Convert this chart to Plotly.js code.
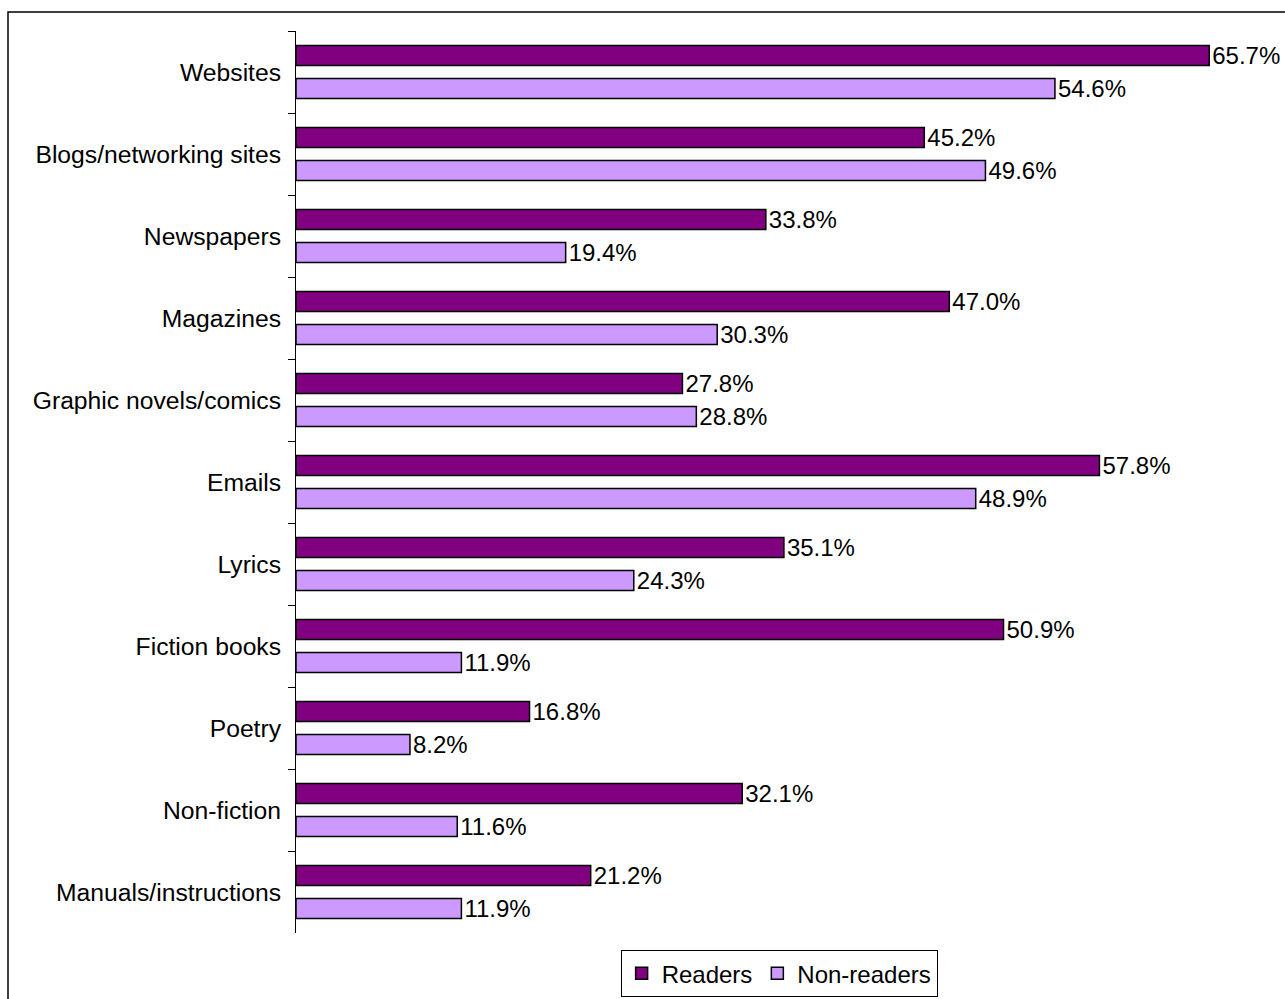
<!DOCTYPE html>
<html>
<head>
<meta charset="utf-8">
<script src="https://cdn.plot.ly/plotly-3.0.1.min.js"></script>
<style>
html,body{margin:0;padding:0;background:#fff;}
#chart{width:1285px;height:999px;}
</style>
</head>
<body>
<div id="chart"></div>
<script>
const categories = ["Websites","Blogs/networking sites","Newspapers","Magazines","Graphic novels/comics","Emails","Lyrics","Fiction books","Poetry","Non-fiction","Manuals/instructions"];
const readers = [65.7,45.2,33.8,47.0,27.8,57.8,35.1,50.9,16.8,32.1,21.2];
const nonReaders = [54.6,49.6,19.4,30.3,28.8,48.9,24.3,11.9,8.2,11.6,11.9];
const seriesNames = ["Readers","Non-readers"];

const FONT = "'Liberation Sans', Arial, sans-serif";
const FS = 24;

function mk(vals, name, color){
  return {
    type:'bar', orientation:'h', name:name,
    y:categories, x:vals,
    text:vals.map(v=>v.toFixed(1)+'%'),
    textposition:'outside', cliponaxis:false, constraintext:'none',
    textfont:{family:FONT,size:FS,color:'#000'},
    marker:{color:color,line:{color:'#000',width:1.5}},
    hoverinfo:'x+y'
  };
}

const data = [mk(readers,seriesNames[0],'#800080'), mk(nonReaders,seriesNames[1],'#CC99FF')];

const layout = {
  width:1285, height:999,
  margin:{l:296,r:0,t:31,b:66},
  paper_bgcolor:'#fff', plot_bgcolor:'#fff',
  barmode:'group', bargap:0.195, bargroupgap:0.39,
  font:{family:FONT,size:FS,color:'#000'},
  xaxis:{range:[0,71.15],visible:false,fixedrange:true},
  yaxis:{
    type:'category', categoryorder:'array', categoryarray:categories,
    autorange:'reversed',
    showline:true, linecolor:'#000', linewidth:1,
    ticks:'outside', ticklen:7, tickcolor:'#000', tickwidth:1,
    tickson:'boundaries', ticklabelstandoff:9,
    showgrid:false, zeroline:false,
    tickfont:{family:FONT,size:24.7,color:'#000'}
  },
  showlegend:true,
  legend:{
    orientation:'h', x:0.4885, xanchor:'center', y:-0.019, yanchor:'top',
    bordercolor:'#000', borderwidth:1, bgcolor:'#fff',
    font:{family:FONT,size:FS,color:'#000'}, traceorder:'normal',
    itemwidth:30
  },
  shapes:[{
    type:'rect', xref:'paper', yref:'paper', layer:'below',
    x0:(8-296)/989, x1:1.02, y0:-0.08, y1:(933-12)/902,
    line:{color:'#000',width:1.5}, fillcolor:'rgba(0,0,0,0)'
  }]
};

Plotly.newPlot('chart', data, layout, {displayModeBar:false, staticPlot:true});
</script>
</body>
</html>
